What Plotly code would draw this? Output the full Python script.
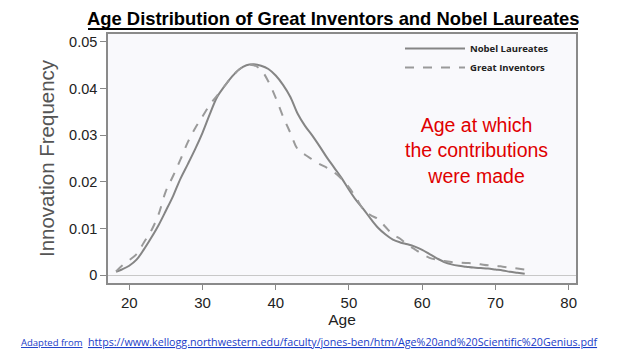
import plotly.graph_objects as go

ages = [18.2, 19, 20, 21, 22, 23, 24, 25, 26, 27, 28, 29, 30, 31, 32, 33, 34, 35, 36, 37, 38, 39,
        40, 41, 42, 43, 44, 45, 46, 47, 48, 49, 50, 51, 52, 53, 54, 55, 56, 57, 58, 59, 60, 61,
        62, 63, 64, 65, 66, 67, 68, 69, 70, 71, 72, 73, 74]
nobel = [0.0007, 0.0012, 0.0020, 0.0033, 0.0055, 0.0080, 0.0107, 0.0138, 0.0170, 0.0207, 0.0238,
         0.0270, 0.0305, 0.0345, 0.0382, 0.0405, 0.0425, 0.0441, 0.0450, 0.0452, 0.0449, 0.0442,
         0.0428, 0.0408, 0.0382, 0.0346, 0.0320, 0.0299, 0.0276, 0.0252, 0.0230, 0.0208, 0.0183,
         0.0160, 0.0141, 0.0120, 0.0101, 0.0087, 0.0076, 0.0070, 0.0066, 0.0061, 0.0054, 0.0045,
         0.0036, 0.0028, 0.0023, 0.0020, 0.0018, 0.0016, 0.0015, 0.0014, 0.0012, 0.0010, 0.0007,
         0.0005, 0.0003]
inventors = [0.0008, 0.0020, 0.0032, 0.0045, 0.0070, 0.0095, 0.0130, 0.0180, 0.0213, 0.0248,
             0.0285, 0.0315, 0.0340, 0.0365, 0.0385, 0.0405, 0.0425, 0.0441, 0.0450, 0.0450,
             0.0440, 0.0415, 0.0380, 0.0340, 0.0305, 0.0270, 0.0258, 0.0248, 0.0238, 0.0230,
             0.0220, 0.0206, 0.0188, 0.0165, 0.0140, 0.0128, 0.0120, 0.0103, 0.0087, 0.0078,
             0.0065, 0.0055, 0.0045, 0.0037, 0.0033, 0.0030, 0.0028, 0.0027, 0.0026, 0.0025,
             0.0023, 0.0021, 0.0020, 0.0018, 0.0016, 0.0014, 0.0012]
x_ticks = [20, 30, 40, 50, 60, 70, 80]
y_ticks = [0, 0.01, 0.02, 0.03, 0.04, 0.05]
y_tick_labels = ["0", "0.01", "0.02", "0.03", "0.04", "0.05"]

OFF = 8  # default page body margin
FW, FH = 640 - OFF, 360 - OFF
L, R, T, B = 108 - OFF, 576 - OFF, 34 - OFF, 283 - OFF
W, H = R - L, B - T


def px(xs):
    return (xs - OFF - L) / W


def py(ys):
    return (B - (ys - OFF)) / H


fig = go.Figure()
fig.add_trace(go.Scatter(x=ages, y=nobel, mode="lines", name="<b>Nobel Laureates</b>",
                         line=dict(color="#858585", width=2), line_shape="spline"))
fig.add_trace(go.Scatter(x=ages, y=inventors, mode="lines", name="<b>Great Inventors</b>",
                         line=dict(color="#9a9a9a", width=2, dash="dash"), line_shape="spline"))

fig.update_layout(
    width=FW, height=FH,
    margin=dict(l=L, r=FW - R, t=T, b=FH - B, autoexpand=False),
    paper_bgcolor="white", plot_bgcolor="#f9f9fc",
    font=dict(family="Liberation Sans, Arial", color="#222"),
    showlegend=True,
    legend=dict(x=px(400), y=py(34), xanchor="left", yanchor="top", bgcolor="rgba(0,0,0,0)",
                itemwidth=60, font=dict(size=9.5, family="Open Sans", color="#222"),
                tracegroupgap=0),
    xaxis=dict(range=[17.1, 81.0], tickvals=x_ticks, ticks="outside", ticklen=5, tickcolor="#888",
               showgrid=False, zeroline=False, showline=True, mirror=True, linecolor="#8a8a8a",
               linewidth=1.5, tickfont=dict(size=15, color="#222"), automargin=True,
               title=dict(text="Age", font=dict(size=15.5, color="#222"), standoff=3)),
    yaxis=dict(range=[-0.0017, 0.0517], tickvals=y_ticks, ticktext=y_tick_labels, ticks="outside",
               ticklen=6, tickcolor="#888", showgrid=False, zeroline=True, zerolinecolor="#c8c8c8",
               zerolinewidth=1.2, showline=True, mirror=True, linecolor="#8a8a8a", linewidth=1.5,
               tickfont=dict(size=14.5, color="#222"), automargin=True,
               title=dict(text="Innovation Frequency", font=dict(size=20.5, color="#555"),
                          standoff=9)),
)

fig.add_annotation(xref="paper", yref="paper", x=px(333), y=py(18), yanchor="middle",
                   xanchor="center", showarrow=False,
                   text="<b>Age Distribution of Great Inventors and Nobel Laureates</b>",
                   font=dict(size=18.4, family="Liberation Sans, Arial", color="black"))
fig.add_shape(type="line", xref="paper", yref="paper", x0=px(88), x1=px(578),
              y0=py(29), y1=py(29), line=dict(color="black", width=2))

fig.add_annotation(xref="paper", yref="paper", x=px(476), y=py(150),
                   xanchor="center", yanchor="middle", showarrow=False,
                   text="Age at which<br>the contributions<br>were made",
                   font=dict(size=19.5, color="#e00000", family="Liberation Sans, Arial"))

fig.add_annotation(xref="paper", yref="paper", x=px(19), y=py(342),
                   xanchor="left", yanchor="middle", showarrow=False,
                   text='<span style="text-decoration:underline">Adapted from</span>',
                   font=dict(size=9.5, color="#1a3cc8", family="Open Sans"))
fig.add_annotation(xref="paper", yref="paper", x=px(86), y=py(342),
                   xanchor="left", yanchor="middle", showarrow=False,
                   text='<span style="text-decoration:underline">https://www.kellogg.northwestern.edu/faculty/jones-ben/htm/Age%20and%20Scientific%20Genius.pdf</span>',
                   font=dict(size=10.7, color="#1a3cc8", family="Open Sans"))

fig.write_html("out.html")
